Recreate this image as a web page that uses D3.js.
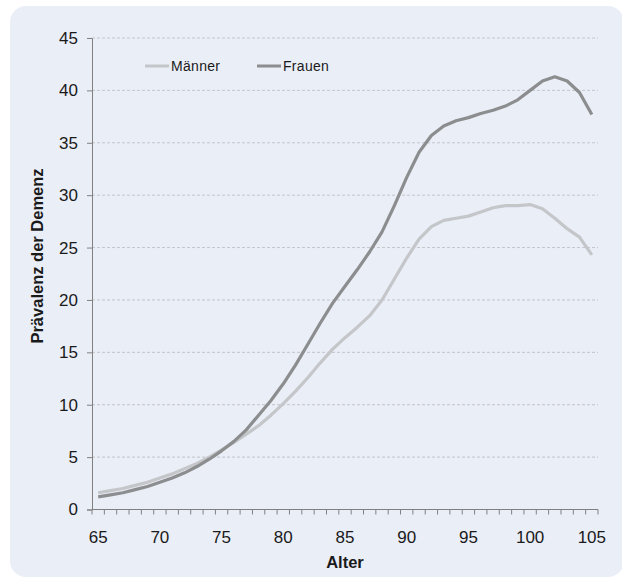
<!DOCTYPE html>
<html>
<head>
<meta charset="utf-8">
<script src="https://cdn.jsdelivr.net/npm/d3@7"></script>
<style>
  html, body { margin: 0; padding: 0; background: #ffffff; }
  svg { display: block; font-family: "Liberation Sans", Arial, sans-serif; }
</style>
</head>
<body>
<svg id="chart" width="622" height="586"></svg>
<script>
// ---- Data ----
const ages = d3.range(65, 106);
const maenner = [1.6, 1.8, 2.0, 2.3, 2.6, 3.0, 3.4, 3.9, 4.4, 5.0,
                 5.7, 6.4, 7.2, 8.0, 9.0, 10.1, 11.3, 12.6, 14.0, 15.3,
                 16.4, 17.4, 18.5, 20.0, 22.0, 24.0, 25.8, 27.0, 27.6, 27.8,
                 28.0, 28.4, 28.8, 29.0, 29.0, 29.1, 28.7, 27.8, 26.8, 26.0,
                 24.3];
const frauen = [1.2, 1.4, 1.6, 1.9, 2.2, 2.6, 3.0, 3.5, 4.1, 4.8,
                5.6, 6.5, 7.6, 9.0, 10.4, 12.0, 13.8, 15.8, 17.8, 19.7,
                21.3, 22.9, 24.6, 26.5, 29.0, 31.7, 34.1, 35.7, 36.6, 37.1,
                37.4, 37.8, 38.1, 38.5, 39.1, 40.0, 40.9, 41.3, 40.9, 39.8,
                37.7];
const yTicks = [0, 5, 10, 15, 20, 25, 30, 35, 40, 45];
const xTickLabels = [65, 70, 75, 80, 85, 90, 95, 100, 105];
const seriesNames = ["Männer", "Frauen"];
const seriesColors = ["#c4c6c9", "#8c8d8f"];

(function () {
const svg = d3.select("#chart");

// background panel
svg.append("rect")
  .attr("x", 10).attr("y", 6)
  .attr("width", 614).attr("height", 571)
  .attr("rx", 16).attr("ry", 16)
  .attr("fill", "#eaeef7");

const pLeft = 92, pRight = 598, pTop = 38, pBottom = 509.5;

const x = d3.scaleBand().domain(ages).range([pLeft, pRight]);
const xc = a => x(a) + x.bandwidth() / 2;
const y = d3.scaleLinear().domain([0, 45]).range([pBottom, pTop]);

// gridlines
svg.append("g")
  .selectAll("line")
  .data(yTicks.filter(t => t > 0))
  .join("line")
  .attr("x1", pLeft).attr("x2", pRight)
  .attr("y1", d => y(d)).attr("y2", d => y(d))
  .attr("stroke", "#c3c5ca")
  .attr("stroke-width", 1)
  .attr("stroke-dasharray", "3,2");

// y axis
const yAxis = svg.append("g")
  .attr("transform", `translate(${pLeft},0)`)
  .call(d3.axisLeft(y).tickValues(yTicks).tickSize(5).tickPadding(9));
yAxis.select(".domain").attr("stroke", "#808080");
yAxis.selectAll(".tick line").attr("stroke", "#808080");
yAxis.selectAll("text")
  .attr("font-size", 17)
  .attr("font-family", "Liberation Sans, Arial, sans-serif")
  .attr("fill", "#1a1a1a");

// x axis (ticks between categories, labels at centers)
const xAxisG = svg.append("g").attr("transform", `translate(0,${pBottom})`);
xAxisG.append("line")
  .attr("x1", pLeft).attr("x2", pRight)
  .attr("y1", 0).attr("y2", 0)
  .attr("stroke", "#808080");
const boundaries = ages.map(a => x(a)).concat([pRight]);
xAxisG.selectAll("line.tk")
  .data(boundaries)
  .join("line")
  .attr("class", "tk")
  .attr("x1", d => d).attr("x2", d => d)
  .attr("y1", 0).attr("y2", 5)
  .attr("stroke", "#808080");
xAxisG.selectAll("text")
  .data(xTickLabels)
  .join("text")
  .attr("x", d => xc(d))
  .attr("y", 33)
  .attr("text-anchor", "middle")
  .attr("font-size", 17)
  .attr("fill", "#1a1a1a")
  .text(d => d);

// axis titles
svg.append("text")
  .attr("x", 345).attr("y", 568)
  .attr("text-anchor", "middle")
  .attr("font-size", 16.5).attr("font-weight", "bold")
  .attr("fill", "#1a1a1a")
  .text("Alter");

svg.append("text")
  .attr("transform", "translate(43,256) rotate(-90)")
  .attr("text-anchor", "middle")
  .attr("font-size", 16.5).attr("font-weight", "bold")
  .attr("fill", "#1a1a1a")
  .text("Prävalenz der Demenz");

// lines
const line = d3.line()
  .x((d, i) => xc(ages[i]))
  .y(d => y(d));

[maenner, frauen].forEach((vals, k) => {
  svg.append("path")
    .datum(vals)
    .attr("fill", "none")
    .attr("stroke", seriesColors[k])
    .attr("stroke-width", 3.2)
    .attr("stroke-linejoin", "round")
    .attr("d", line);
});

// legend
const legendX = [145, 257];
seriesNames.forEach((name, k) => {
  const g = svg.append("g").attr("transform", `translate(${legendX[k]},66)`);
  g.append("line")
    .attr("x1", 0).attr("x2", 24)
    .attr("y1", 0).attr("y2", 0)
    .attr("stroke", seriesColors[k])
    .attr("stroke-width", 3);
  g.append("text")
    .attr("x", 26).attr("y", 5)
    .attr("font-size", 14)
    .attr("letter-spacing", 0.3)
    .attr("fill", "#1a1a1a")
    .text(name);
});
})();
</script>
</body>
</html>
